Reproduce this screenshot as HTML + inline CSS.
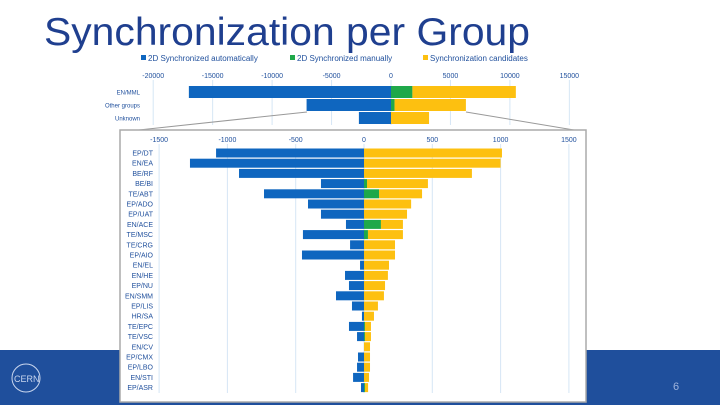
<!DOCTYPE html>
<html><head><meta charset="utf-8"><style>
html,body{margin:0;padding:0;background:#fff;width:720px;height:405px;overflow:hidden;font-family:"Liberation Sans",sans-serif}
</style></head><body>
<svg id="s" width="720" height="405" xmlns="http://www.w3.org/2000/svg">
<rect x="0" y="350" width="720" height="55" fill="#1f4f9c"/>
<g fill="none" stroke="#c9d6ee" stroke-width="1">
<circle cx="26" cy="378" r="14"/><text x="14" y="382" font-size="9" fill="#c9d6ee" stroke="none">CERN</text>
</g>
<text x="673" y="390" font-size="11" fill="#9fb4dc">6</text>
<text x="44" y="45" font-size="39" textLength="486" lengthAdjust="spacingAndGlyphs" fill="#1f3f8f">Synchronization per Group</text>
<g id="legend" font-size="8" fill="#1f4f9c"></g>
<g id="top"></g>
<line x1="307" y1="112" x2="120" y2="132" stroke="#999" stroke-width="1"/>
<line x1="466" y1="112" x2="586" y2="132" stroke="#999" stroke-width="1"/>
<rect x="120" y="130" width="466" height="272" fill="#fff" stroke="#aaa" stroke-width="1.5"/>
<g id="bot"></g>
</svg>
<script>
const topCats=["EN/MML","Other groups","Unknown"];
const topAuto=[-17000,-7100,-2700];
const topManual=[1800,300,0];
const topCand=[8700,6000,3200];
const topTicks=[-20000,-15000,-10000,-5000,0,5000,10000,15000];
const cats=["EP/DT","EN/EA","BE/RF","BE/BI","TE/ABT","EP/ADO","EP/UAT","EN/ACE","TE/MSC","TE/CRG","EP/AIO","EN/EL","EN/HE","EP/NU","EN/SMM","EP/LIS","HR/SA","TE/EPC","TE/VSC","EN/CV","EP/CMX","EP/LBO","EN/STI","EP/ASR"];
const auto=[-1083,-1274,-915,-315,-732,-410,-315,-132,-447,-102,-454,-29,-139,-110,-205,-88,-15,-110,-51,0,-44,-51,-80,-22];
const manual=[0,0,0,22,110,0,0,124,29,0,0,0,0,0,0,0,0,7,7,0,0,0,0,7];
const cand=[1010,1000,790,446,315,345,315,161,256,227,227,183,175,154,146,102,73,44,44,44,44,44,37,23];
const botTicks=[-1500,-1000,-500,0,500,1000,1500];
const NS="http://www.w3.org/2000/svg";
const BLUE="#0f66bf",GREEN="#1fa84a",YEL="#fdc010";
function mk(p,t,a){const e=document.createElementNS(NS,t);for(const k in a)e.setAttribute(k,a[k]);p.appendChild(e);return e;}
const lg=document.getElementById('legend');
[["2D Synchronized automatically",BLUE,148],["2D Synchronized manually",GREEN,297],["Synchronization candidates",YEL,430]].forEach(d=>{
 const r=mk(lg,'rect',{x:d[2]-7,y:55,width:5,height:5,fill:d[1]});
 
 
 const t=mk(lg,'text',{x:d[2],y:61});t.textContent=d[0];
 
 
});
function drawChart(g,opt){
 const x=v=>opt.x0+v*opt.k;
 opt.ticks.forEach(t=>{
  const l=mk(g,'line',{x1:x(t),x2:x(t),y1:opt.gy0,y2:opt.gy1,stroke:"#d6e6f5","stroke-width":1});
  
  
  const tx=mk(g,'text',{x:x(t),y:opt.ty,"font-size":7,"text-anchor":"middle",fill:"#1f4f9c"});tx.textContent=t;
  
  
 });
 opt.cats.forEach((c,i)=>{
  const y=opt.y0+i*opt.pitch;
  const lb=mk(g,'text',{x:opt.lx,y:y+opt.h/2+2.5,"font-size":opt.fs,"text-anchor":"end",fill:"#1f4f9c"});lb.textContent=c;
  
  
  const a=opt.a[i],m=opt.m[i],cd=opt.c[i];
  const b1=mk(g,'rect',{x:x(a),y:y,width:x(0)-x(a),height:opt.h,fill:BLUE});
  
  
  const b2=mk(g,'rect',{x:x(0),y:y,width:x(m)-x(0),height:opt.h,fill:GREEN});
  
  
  const b3=mk(g,'rect',{x:x(m),y:y,width:x(m+cd)-x(m),height:opt.h,fill:YEL});
  
  
 });
}
drawChart(document.getElementById('top'),{x0:391,k:11.89/1000,ticks:topTicks,gy0:80,gy1:125,ty:78,cats:topCats,a:topAuto,m:topManual,c:topCand,y0:86,pitch:13,h:12,lx:140,fs:6});
drawChart(document.getElementById('bot'),{x0:364,k:68.3/500,ticks:botTicks,gy0:144,gy1:393,ty:142,cats:cats,a:auto,m:manual,c:cand,y0:148.5,pitch:10.2,h:9,lx:153,fs:7});
</script>
</body></html>
